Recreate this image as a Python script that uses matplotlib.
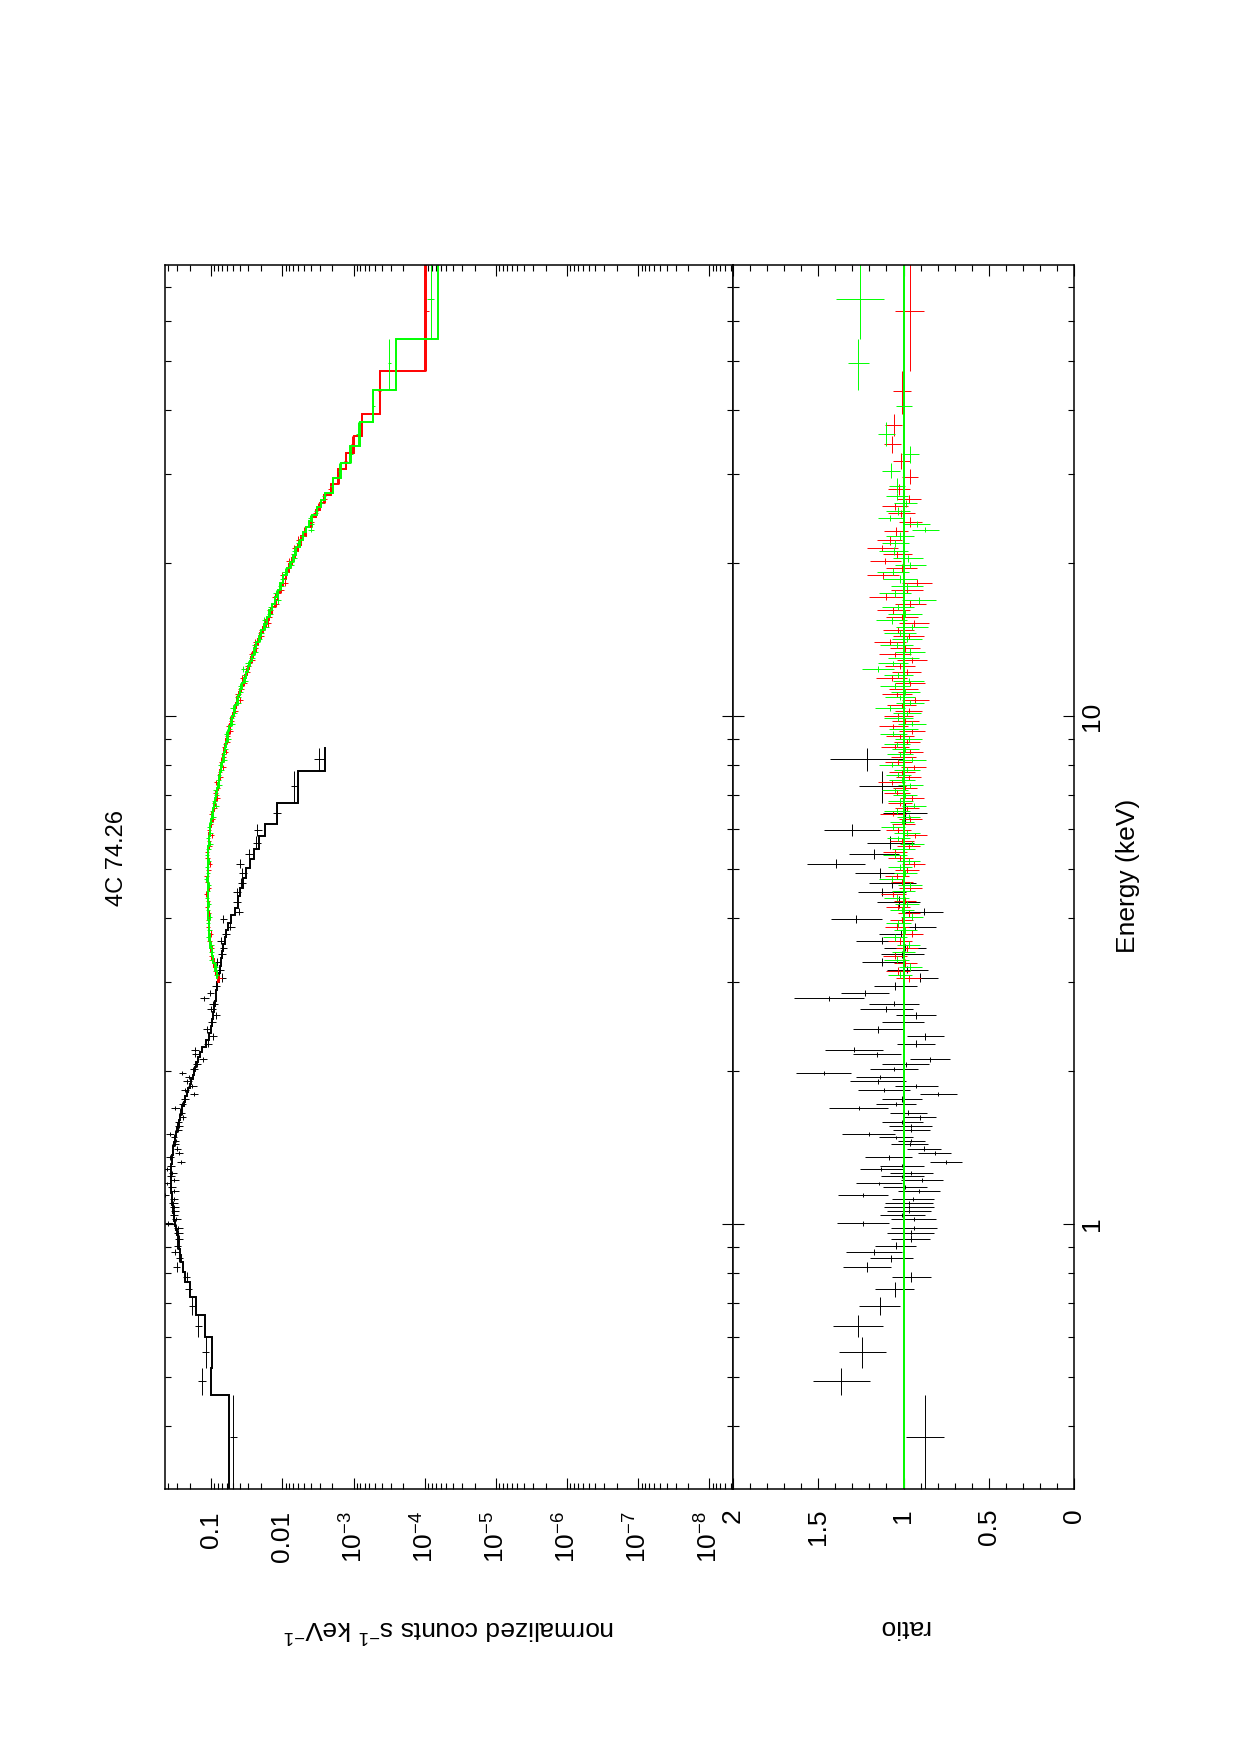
import numpy as np
import matplotlib
matplotlib.use('Agg')
import matplotlib.pyplot as plt
from matplotlib.ticker import FixedLocator, FixedFormatter, LogLocator, MultipleLocator, NullFormatter

# ---------------- data ----------------
title = "4C 74.26"

# black (soft X-ray) spectrum: bin edges (keV), model (counts/s/keV), ratio, ratio error
blk_edges = [0.300, 0.461, 0.522, 0.600, 0.663, 0.720, 0.771, 0.806,
             0.843, 0.869, 0.894, 0.921, 0.950, 0.973, 0.993, 1.014, 1.033, 1.052,
             1.072, 1.093, 1.113, 1.133, 1.152, 1.173, 1.194, 1.213, 1.231, 1.252,
             1.274, 1.294, 1.314, 1.340, 1.367, 1.394, 1.423, 1.449, 1.471, 1.492,
             1.518, 1.547, 1.575, 1.604, 1.640, 1.676, 1.707, 1.743, 1.784, 1.823,
             1.856, 1.891, 1.927, 1.963, 2.001, 2.042, 2.085, 2.134, 2.181, 2.231,
             2.303, 2.382, 2.455, 2.535, 2.615, 2.685, 2.75, 2.815, 2.895, 3.00,
             3.115, 3.225, 3.34, 3.45, 3.555, 3.67, 3.795, 3.91, 4.06, 4.19, 4.42,
             4.58, 4.80, 5.02, 5.23, 5.47, 5.80, 6.13, 6.74, 7.81, 8.65]
blk_model = [0.056, 0.100, 0.0965, 0.121, 0.163, 0.198, 0.233,
             0.252, 0.262, 0.275, 0.287, 0.297, 0.306, 0.314, 0.322, 0.328, 0.334,
             0.340, 0.346, 0.352, 0.357, 0.360, 0.363, 0.366, 0.368, 0.369, 0.369,
             0.368, 0.366, 0.363, 0.359, 0.354, 0.348, 0.341, 0.334, 0.327, 0.321,
             0.313, 0.305, 0.296, 0.287, 0.277, 0.266, 0.256, 0.245, 0.233, 0.221,
             0.210, 0.200, 0.190, 0.181, 0.174, 0.168, 0.163, 0.155, 0.145, 0.133,
             0.120, 0.108, 0.101, 0.097, 0.094, 0.091, 0.089, 0.087, 0.085, 0.082,
             0.079, 0.076, 0.073, 0.070, 0.068, 0.065, 0.062, 0.058, 0.0527, 0.047,
             0.0426, 0.039, 0.0354, 0.032, 0.0283, 0.025, 0.0216, 0.0173, 0.0121,
             0.0061, 0.0025]
blk_ratio = [0.876, 1.364, 1.241, 1.267, 1.140, 1.052, 0.954,
             1.212, 1.071, 1.173, 1.046, 0.958, 0.958, 0.938, 1.237, 0.940, 1.007,
             0.968, 0.968, 0.968, 0.944, 1.237, 0.909, 0.993, 1.143, 0.891, 1.007,
             0.954, 1.130, 1.007, 0.749, 1.087, 0.817, 0.880, 0.964, 0.954, 1.042,
             1.204, 0.954, 0.958, 1.007, 0.905, 0.973, 1.263, 1.042, 1.007, 0.797,
             1.116, 0.925, 1.149, 1.140, 1.468, 1.056, 0.987, 0.846, 1.155, 1.290,
             0.928, 0.872, 1.147, 1.003, 0.925, 1.100, 1.057, 1.439, 1.228, 1.048,
             0.905, 0.977, 1.124, 1.007, 0.993, 1.126, 1.016, 0.930, 1.276, 0.880,
             1.028, 1.124, 1.065, 1.138, 1.396, 1.173, 1.077, 1.302, 0.993, 1.124,
             1.214]
blk_rerr = [0.112, 0.166, 0.140, 0.148, 0.120, 0.113, 0.113,
            0.140, 0.127, 0.162, 0.120, 0.114, 0.137, 0.134, 0.152, 0.131, 0.131,
            0.129, 0.146, 0.139, 0.125, 0.145, 0.122, 0.129, 0.135, 0.122, 0.127,
            0.127, 0.127, 0.130, 0.094, 0.139, 0.098, 0.102, 0.110, 0.081, 0.100,
            0.154, 0.110, 0.125, 0.120, 0.096, 0.108, 0.175, 0.117, 0.117, 0.109,
            0.153, 0.125, 0.162, 0.137, 0.163, 0.139, 0.137, 0.117, 0.140, 0.170,
            0.110, 0.109, 0.149, 0.126, 0.117, 0.158, 0.145, 0.205, 0.141, 0.127,
            0.110, 0.120, 0.122, 0.127, 0.124, 0.152, 0.127, 0.119, 0.152, 0.112,
            0.125, 0.140, 0.140, 0.144, 0.171, 0.149, 0.137, 0.166, 0.129, 0.137,
            0.218]

# red (FPMA)
red_edges = [3.00, 3.10, 3.21, 3.32, 3.43, 3.55, 3.67, 3.79, 3.91, 4.03, 4.15, 4.27,
             4.40, 4.53, 4.66, 4.79, 4.92, 5.05, 5.19, 5.33, 5.47, 5.61, 5.75, 5.90,
             6.05, 6.20, 6.35, 6.50, 6.66, 6.82, 6.98, 7.15, 7.32, 7.49, 7.67, 7.85,
             8.03, 8.22, 8.41, 8.61, 8.81, 9.02, 9.23, 9.45, 9.67, 9.90, 10.13, 10.38,
             10.63, 10.90, 11.17, 11.45, 11.75, 12.05, 12.37, 12.70, 13.05, 13.40,
             13.78, 14.17, 14.57, 15.00, 15.45, 15.92, 16.40, 16.92, 17.46, 18.02,
             18.62, 19.25, 19.90, 20.50, 21.15, 21.75, 22.60, 23.60, 24.70, 25.50,
             26.30, 27.30, 28.60, 30.60, 33.00, 35.60, 39.30, 47.90, 77.50]
red_model = [0.080, 0.086, 0.092, 0.097, 0.101, 0.104, 0.1065, 0.108, 0.109, 0.110,
             0.1105, 0.111, 0.1115, 0.112, 0.112, 0.112, 0.1115, 0.111, 0.1105, 0.110,
             0.109, 0.1075, 0.106, 0.104, 0.101, 0.098, 0.095, 0.092, 0.089, 0.0865,
             0.084, 0.0815, 0.079, 0.0768, 0.0745, 0.0722, 0.0700, 0.0678, 0.0655,
             0.0632, 0.0610, 0.0588, 0.0565, 0.0543, 0.0520, 0.0497, 0.0474, 0.0451,
             0.0428, 0.0405, 0.0383, 0.0361, 0.0340, 0.0319, 0.0299, 0.0279, 0.0260,
             0.0241, 0.0223, 0.0206, 0.0190, 0.0170, 0.0155, 0.0141, 0.0128, 0.0117,
             0.0107, 0.0099, 0.0090, 0.0082, 0.0074, 0.0067, 0.0061, 0.0055, 0.0047,
             0.0040, 0.0034, 0.0030, 0.0026, 0.0021, 0.00164, 0.00128, 0.00098,
             0.00075, 0.00043, 0.000099]
red_ratio = [0.97, 1.03, 0.99, 1.05, 0.98, 1.02, 0.95, 1.04, 1.01, 0.97,
             1.03, 0.99, 1.06, 0.96, 1.01, 1.04, 0.98, 0.94, 1.02, 1.05,
             0.97, 1.01, 0.93, 1.03, 1.00, 0.96, 1.06, 0.98, 1.02, 0.95,
             1.04, 0.99, 1.07, 0.97, 1.01, 0.94, 1.03, 1.00, 0.96, 1.05,
             0.98, 1.02, 0.95, 1.06, 0.99, 1.03, 0.97, 1.01, 0.93, 1.04,
             1.00, 0.96, 1.07, 0.98, 1.02, 0.95, 1.05, 0.99, 1.08, 0.97,
             1.03, 0.94, 1.01, 1.06, 0.96, 1.10, 0.98, 0.92, 1.12, 1.01,
             1.106, 1.038, 1.124, 1.081, 1.046, 0.960, 1.013, 1.048, 0.969, 1.028,
             0.962, 1.013, 1.065, 1.057, 1.009, 0.962]
red_rerr = [0.075, 0.070, 0.068, 0.072, 0.065, 0.070, 0.066, 0.071, 0.068, 0.064,
            0.070, 0.066, 0.072, 0.068, 0.065, 0.071, 0.069, 0.067, 0.073, 0.070,
            0.068, 0.072, 0.066, 0.074, 0.070, 0.068, 0.075, 0.071, 0.069, 0.073,
            0.076, 0.072, 0.078, 0.074, 0.077, 0.073, 0.079, 0.076, 0.074, 0.080,
            0.078, 0.082, 0.077, 0.085, 0.080, 0.083, 0.079, 0.086, 0.081, 0.088,
            0.084, 0.087, 0.092, 0.085, 0.090, 0.086, 0.093, 0.088, 0.095, 0.090,
            0.092, 0.087, 0.094, 0.098, 0.090, 0.100, 0.094, 0.088, 0.096, 0.092,
            0.090, 0.085, 0.092, 0.075, 0.070, 0.068, 0.078, 0.076, 0.072, 0.065,
            0.048, 0.049, 0.051, 0.050, 0.051, 0.085]

# green (FPMB)
grn_edges = [3.05, 3.15, 3.26, 3.37, 3.49, 3.61, 3.73, 3.85, 3.97, 4.09, 4.21, 4.33,
             4.46, 4.59, 4.72, 4.85, 4.98, 5.12, 5.26, 5.40, 5.54, 5.68, 5.82, 5.97,
             6.12, 6.27, 6.42, 6.58, 6.74, 6.90, 7.06, 7.23, 7.40, 7.58, 7.76, 7.94,
             8.12, 8.31, 8.51, 8.71, 8.91, 9.12, 9.34, 9.56, 9.78, 10.01, 10.25, 10.50,
             10.76, 11.03, 11.31, 11.60, 11.90, 12.21, 12.53, 12.87, 13.22, 13.59,
             13.97, 14.37, 14.78, 15.22, 15.68, 16.15, 16.65, 17.18, 17.73, 18.30,
             18.92, 19.55, 20.15, 20.80, 21.55, 22.25, 23.00, 23.60, 24.20, 24.90,
             25.80, 26.70, 27.50, 29.40, 31.50, 34.00, 37.90, 43.80, 55.30, 77.50]
grn_model = [0.083, 0.089, 0.095, 0.099, 0.1025, 0.105, 0.107, 0.1085, 0.1095, 0.110,
             0.1105, 0.111, 0.1115, 0.112, 0.112, 0.112, 0.1115, 0.111, 0.110, 0.1095,
             0.108, 0.107, 0.105, 0.1025, 0.0995, 0.0965, 0.0935, 0.0905, 0.0878,
             0.0852, 0.0828, 0.0803, 0.0779, 0.0756, 0.0733, 0.0711, 0.0689, 0.0666,
             0.0643, 0.0621, 0.0599, 0.0576, 0.0554, 0.0531, 0.0508, 0.0485, 0.0462,
             0.0439, 0.0416, 0.0394, 0.0372, 0.0350, 0.0329, 0.0309, 0.0289, 0.0269,
             0.0250, 0.0232, 0.0214, 0.0198, 0.0182, 0.0167, 0.0153, 0.0140, 0.0128,
             0.0117, 0.0107, 0.0097, 0.0087, 0.0079, 0.0071, 0.0064, 0.0057, 0.0051,
             0.0046, 0.0042, 0.0038, 0.0033, 0.0029, 0.0025, 0.00195, 0.00148,
             0.00112, 0.00080, 0.00053, 0.00025, 0.000066]
grn_ratio = [1.02, 0.96, 1.04, 1.00, 0.97, 1.05, 0.99, 1.03, 0.95, 1.01,
             0.98, 1.04, 1.00, 0.96, 1.07, 0.99, 1.02, 0.97, 1.05, 1.00,
             0.95, 1.03, 0.98, 1.06, 1.01, 0.97, 1.04, 0.94, 1.02, 0.99,
             1.05, 0.96, 1.01, 1.03, 0.98, 1.07, 0.95, 1.02, 0.99, 1.04,
             0.97, 1.06, 1.00, 0.95, 1.03, 0.98, 1.08, 0.96, 1.02, 0.99,
             1.05, 0.97, 1.03, 1.15, 1.06, 1.00, 0.96, 1.04, 0.98, 1.02,
             0.95, 1.07, 0.99, 1.03, 0.91, 1.05, 0.98, 1.02, 1.061, 0.96,
             0.973, 1.057, 1.048, 1.022, 0.872, 0.919, 1.077, 1.032, 0.987, 1.038,
             1.038, 1.075, 0.960, 1.100, 0.997, 1.265, 1.255]
grn_rerr = [0.072, 0.068, 0.074, 0.069, 0.066, 0.071, 0.067, 0.073, 0.065, 0.070,
            0.068, 0.073, 0.066, 0.070, 0.074, 0.067, 0.071, 0.068, 0.072, 0.069,
            0.071, 0.067, 0.074, 0.070, 0.072, 0.068, 0.076, 0.070, 0.073, 0.071,
            0.075, 0.073, 0.077, 0.074, 0.078, 0.075, 0.080, 0.076, 0.079, 0.077,
            0.081, 0.079, 0.084, 0.080, 0.086, 0.082, 0.087, 0.083, 0.089, 0.085,
            0.088, 0.090, 0.086, 0.094, 0.089, 0.092, 0.087, 0.096, 0.090, 0.093,
            0.095, 0.091, 0.098, 0.094, 0.100, 0.096, 0.092, 0.099, 0.094, 0.090,
            0.088, 0.084, 0.080, 0.082, 0.078, 0.076, 0.072, 0.070, 0.068, 0.066,
            0.049, 0.053, 0.048, 0.052, 0.049, 0.063, 0.140]

count_ticks = [1e-1, 1e-2, 1e-3, 1e-4, 1e-5, 1e-6, 1e-7, 1e-8]
count_labels = ['0.1', '0.01', '10$^{-3}$', '10$^{-4}$', '10$^{-5}$',
                '10$^{-6}$', '10$^{-7}$', '10$^{-8}$']
energy_ticks = [1, 10]
energy_labels = ['1', '10']
ratio_ticks = [0, 0.5, 1, 1.5, 2]
ratio_labels = ['0', '0.5', '1', '1.5', '2']

# ---------------- style ----------------
plt.rcParams['font.family'] = ['Liberation Sans', 'DejaVu Sans']
plt.rcParams['mathtext.fontset'] = 'custom'
plt.rcParams['mathtext.rm'] = 'Liberation Sans'
plt.rcParams['mathtext.it'] = 'Liberation Sans:italic'
plt.rcParams['mathtext.bf'] = 'Liberation Sans:bold'

W, H = 1240, 1755
fig = plt.figure(figsize=(W / 100, H / 100), dpi=100)


def fx(p):
    return p / W


def fy(p):
    return 1 - p / H


L, M, R, T, B = 165, 733, 1074, 265, 1489
ax_s = fig.add_axes([fx(L), fy(B), fx(M) - fx(L), fy(T) - fy(B)])
ax_r = fig.add_axes([fx(M), fy(B), fx(R) - fx(M), fy(T) - fy(B)], sharey=ax_s)

ax_s.set_xscale('log')
ax_s.set_yscale('log')
ax_s.set_xlim(0.446, 4.67e-9)
ax_s.set_ylim(0.301, 77.3)
ax_r.set_xlim(2, 0)

RED = '#ff0000'
GRN = '#00ff00'
ELW = 0.7
MLW = 1.4


def draw(edges, model, ratio, rerr, color):
    e = np.asarray(edges)
    lo, hi = e[:-1], e[1:]
    ec = 0.5 * (lo + hi)
    m = np.asarray(model)
    r = np.asarray(ratio)
    s = np.asarray(rerr)
    yerr = [ec - lo, hi - ec]
    ax_s.errorbar(m * r, ec, xerr=m * s, yerr=yerr, fmt='none', ecolor=color,
                  elinewidth=ELW, capsize=0)
    ax_s.plot(np.repeat(m, 2), np.column_stack([lo, hi]).ravel(), color=color,
              lw=MLW, solid_joinstyle='miter')
    ax_r.errorbar(r, ec, xerr=s, yerr=yerr, fmt='none', ecolor=color,
                  elinewidth=ELW, capsize=0)


draw(blk_edges, blk_model, blk_ratio, blk_rerr, 'black')
draw(red_edges, red_model, red_ratio, red_rerr, RED)
draw(grn_edges, grn_model, grn_ratio, grn_rerr, GRN)
ax_r.axvline(1.0, color=RED, lw=MLW)
ax_r.axvline(1.0, color=GRN, lw=MLW)

# ---------------- ticks ----------------
FS = 19
for ax in (ax_s, ax_r):
    for sp in ax.spines.values():
        sp.set_linewidth(1.1)
    ax.tick_params(which='both', direction='in', top=True, bottom=True,
                   left=True, right=True, width=0.8, colors='black')
    ax.tick_params(which='major', length=7.9)
    ax.tick_params(which='minor', length=4.0)

ax_s.xaxis.set_major_locator(FixedLocator(count_ticks))
ax_s.xaxis.set_major_formatter(FixedFormatter(count_labels))
ax_s.xaxis.set_minor_locator(LogLocator(base=10, subs=np.arange(2, 10), numticks=60))
ax_s.xaxis.set_minor_formatter(NullFormatter())
ax_s.yaxis.set_major_locator(FixedLocator(energy_ticks))
ax_s.yaxis.set_major_formatter(FixedFormatter(energy_labels))
ax_s.yaxis.set_minor_locator(LogLocator(base=10, subs=np.arange(2, 10), numticks=60))
ax_s.yaxis.set_minor_formatter(NullFormatter())

ax_r.xaxis.set_major_locator(FixedLocator(ratio_ticks))
ax_r.xaxis.set_major_formatter(FixedFormatter(ratio_labels))
ax_r.xaxis.set_minor_locator(MultipleLocator(0.1))

ax_s.tick_params(axis='x', which='major', labelbottom=True, labeltop=False,
                 labelrotation=90, labelsize=FS, pad=16)
ax_s.tick_params(axis='y', which='both', labelleft=False, labelright=False)
ax_r.tick_params(axis='x', which='major', labelbottom=True, labeltop=False,
                 labelrotation=90, labelsize=FS, pad=14)
ax_r.tick_params(axis='y', which='major', labelleft=False, labelright=True,
                 labelrotation=90, labelsize=FS, pad=4.5)
for lbl in ax_r.get_yticklabels(which='major'):
    lbl.set_va('center')

# ---------------- labels ----------------
fig.text(fx(449), fy(1628), 'normalized counts s$^{-1}$ keV$^{-1}$', rotation=180,
         ha='center', va='center', fontsize=FS)
fig.text(fx(904), fy(1627), 'ratio', rotation=180, ha='center', va='center', fontsize=FS)
fig.text(fx(1128), fy(876), 'Energy (keV)', rotation=90, ha='center', va='center',
         fontsize=FS)
fig.text(fx(117), fy(858), title, rotation=90, ha='center', va='center', fontsize=17)

fig.savefig('out.png', dpi=100)
